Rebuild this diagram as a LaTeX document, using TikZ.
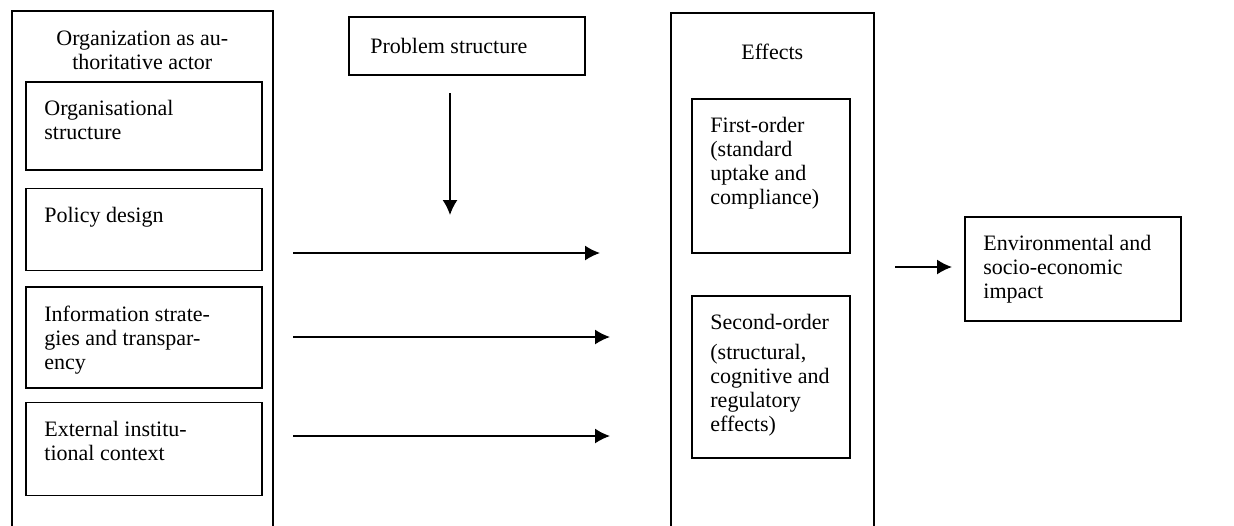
\documentclass[tikz,border=0pt]{standalone}
\usepackage{fontspec}
\setmainfont{Liberation Serif}
\usetikzlibrary{arrows.meta, positioning}

\begin{document}
\begin{tikzpicture}[
      x=0.5pt,
      y=-0.5pt,
      node distance=7.5pt,
      font=\fontsize{11}{12}\selectfont,
      box/.style={
          rectangle,
          draw,
          thick,
          anchor=north west,
          inner sep=0pt
        },
      boxtext/.style={
          anchor=north west,
          align=left,
          inner xsep=9.5pt,
          inner ysep=9.5pt
        },
      title/.style={
          anchor=north,
          align=center,
          inner ysep=10.5pt
        },
      arrow/.style={
          -{Latex[length=7.5pt, width=7.5pt]},
          thick
        }
    ]

    \path[use as bounding box] (0,0) rectangle (1234,525);
    \clip (0,0) rectangle (1234,525);

    % Organization (open at the bottom)
    \node[box, minimum width=130.5pt, minimum height=265pt,
      label={[title]north:Organization as au-\\thoritative actor}] (org) at (11,10) {};

    \node[box, minimum width=118pt, minimum height=44pt,
      label={[boxtext]north west:Organisational\\structure}] (orgstruct) at (25,81) {};
    \node[box, minimum width=118pt, minimum height=41pt,
      below=8.5pt of orgstruct.south west, anchor=north west,
      label={[boxtext]north west:Policy design}] (policy) {};
    \node[box, minimum width=118pt, minimum height=50.5pt,
      below=of policy.south west, anchor=north west,
      label={[boxtext]north west:Information strate-\\gies and transpar-\\ency}] (info) {};
    \node[box, minimum width=118pt, minimum height=46.5pt,
      below=6.5pt of info.south west, anchor=north west,
      label={[boxtext]north west:External institu-\\tional context}] (context) {};

    % Problem structure
    \node[box, minimum width=118pt, minimum height=29pt,
      label={[boxtext, inner xsep=11pt, inner ysep=11pt]north west:Problem structure}] (problem) at (348,16) {};

    % Effects (open at the bottom)
    \node[box, minimum width=101.5pt, minimum height=260pt,
      label={[title, inner ysep=16pt]north:Effects}] (effects) at (670,12) {};

    \node[box, minimum width=79pt, minimum height=77pt,
      label={[boxtext]north west:First-order\\(standard\\uptake and\\compliance)}] (first) at (691,98) {};
    \node[box, minimum width=79pt, minimum height=81pt,
      label={[boxtext]north west:Second-order\\[3pt](structural,\\cognitive and\\regulatory\\effects)}] (second) at (691,295) {};

    % Impact
    \node[box, minimum width=108pt, minimum height=52pt,
      label={[boxtext]north west:Environmental and\\socio-economic\\impact}] (impact) at (964,216) {};

    % Arrow ends
    \coordinate (problem-from) at (450,93);
    \coordinate (problem-to) at (450,215);
    \coordinate (policy-from) at (293,253);
    \coordinate (policy-to) at (600,253);
    \coordinate (info-from) at (293,337);
    \coordinate (info-to) at (610,337);
    \coordinate (context-from) at (293,436);
    \coordinate (context-to) at (610,436);
    \coordinate (impact-from) at (895,267);
    \coordinate (impact-to) at (952,267);

    % Arrows
    \draw[arrow] (problem-from) -- (problem-to);
    \draw[arrow] (policy-from) -- (policy-to);
    \draw[arrow] (info-from) -- (info-to);
    \draw[arrow] (context-from) -- (context-to);
    \draw[arrow] (impact-from) -- (impact-to);
  \end{tikzpicture}
\end{document}
